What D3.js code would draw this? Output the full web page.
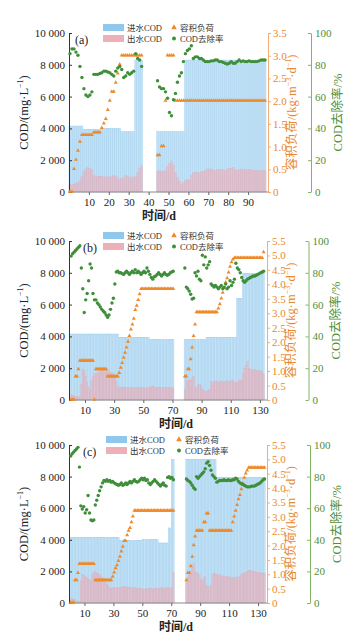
<!DOCTYPE html>
<html>
<head>
<meta charset="utf-8">
<script src="https://cdn.jsdelivr.net/npm/d3@7"></script>
<style>
  body { margin: 0; background: #fff; }
  text { font-family: "Liberation Serif", "Noto Sans CJK SC", serif; }
</style>
</head>
<body>
<svg id="chart" width="362" height="640"></svg>
<script>
// ---- data, one value per day starting at day 1, null = no operation ----
// (a)
const inA = [4150,4150,4150,4150,4150,4150,4150,
  3950,3950,3950,3950,3950,3950,3950,3950,3950,3950,
  4000,4000,4000,4000,4000,4000,4000,4000,4000,
  3800,3800,3800,3800,3800,3800,3800,
  8300,8300,8300,8300,
  null,null,null,null,null,null,null,
  3800,3800,3800,3800,3800,3800,3800,3800,3800,3800,3800,3800,3800,3800,
  8300,8300,8300,8300,8300,8300,8300,8300,8300,8300,8300,8300,8300,8300,8300,8300,8300,8300,8300,8300,
  8300,8300,8300,8300,8300,8300,8300,8300,8300,8300,8300,8300,8300,8300,8300,8300,8300,8300,8300,8300,8300];
const outA = [500,450,500,550,600,700,1000,1300,1450,1550,1500,1400,1050,1000,1000,1000,1000,950,950,950,
  950,1000,1050,1000,900,800,850,900,1050,1000,900,950,900,1000,1200,1500,1650,
  null,null,null,null,null,null,null,
  1300,1350,1300,1300,1350,1600,1800,1950,1700,1250,900,700,500,600,750,800,750,1050,1200,1250,
  1250,1200,1300,1300,1350,1450,1450,1450,1400,1350,1400,1400,1400,1400,1350,1450,1500,1500,1550,1400,
  1350,1400,1450,1400,1400,1400,1400,1400,1350,1350,1350,1350,1350,1350,1350];
const loadA = [0,0,0.5,0.7,0.9,1.1,1.25,1.25,1.25,1.25,1.25,1.25,1.3,1.3,1.3,1.3,
  1.4,1.5,1.6,1.8,2.0,2.2,2.2,2.4,2.6,2.8,
  3.0,3.0,3.0,3.0,3.0,3.0,3.0,3.0,3.0,3.0,3.0,
  null,null,null,null,null,null,null,
  0.8,0.8,1.0,1.0,2.0,3.0,3.0,3.0,3.0,
  2.0,2.0,2.0,2.0,2.0,2.0,2.0,2.0,2.0,2.0,2.0,2.0,2.0,2.0,2.0,2.0,2.0,2.0,2.0,2.0,2.0,2.0,2.0,
  2.0,2.0,2.0,2.0,2.0,2.0,2.0,2.0,2.0,2.0,2.0,2.0,2.0,2.0,2.0,2.0,2.0,2.0,2.0,2.0,2.0,2.0,2.0];
const remA = [87,90,90,88,86,79,72,65,61,60,61,63,74,74,74,74.5,75,76,76,75.5,75,74,73,76,78,79,77,72,73,75,
  74,75,76,87,84,83,79,
  null,null,null,null,null,null,null,
  70,66,65,65,63,59,50,48,58,62,69,73,75,82,87,89,90,92,84,85,85,84,84,83,82,82,82,82.5,82.5,83,
  83,82,82,81.5,81,80.5,81,82,81,81,82,83,82,82.5,82,82,82.5,82,82,82,82,82.5,83,83,83];

// (b)
const inB = [4150,4150,4150,4150,4150,4150,4150,4150,4150,4150,4150,4150,4150,4150,4150,4150,4150,
  4150,4150,4150,4150,4150,4150,4150,4150,4150,4150,4150,4150,4150,4150,4150,4150,
  3950,3950,3950,3950,3950,3950,3950,3950,3950,3950,3950,3950,3950,3950,3950,3950,3950,3950,3950,3950,3950,
  3800,3800,3800,3800,3800,3800,3800,3800,3800,3800,3800,3800,3800,3800,3800,3800,3800,
  null,null,null,null,null,null,null,
  3800,3800,3800,3800,3800,3800,3800,3800,3800,3800,3800,3800,3800,3800,3800,
  3950,3950,3950,3950,3950,3950,3950,3950,3950,3950,3950,3950,3950,3950,3950,3950,3950,3950,3950,3950,3950,
  6400,6400,6400,6400,
  7950,7950,7950,7950,7950,7950,7950,7950,7950,7950,7950,7950,7950,7950,7950];
const outB = [350,300,250,250,200,200,150,1000,1900,1850,1500,1100,800,600,
  1200,1500,1650,1600,1700,1750,1800,1850,1800,1750,1900,1850,1800,1750,1700,1650,1500,1200,850,
  800,780,800,820,800,780,760,800,800,780,750,800,800,780,760,780,800,800,780,750,
  780,800,850,850,820,800,780,800,820,800,780,800,820,800,780,760,780,760,
  null,null,null,null,null,null,null,
  650,1250,1250,1250,1250,1350,1480,750,800,950,950,950,700,600,500,550,600,650,1150,
  1100,1150,1200,1150,1100,1150,1200,1150,1100,1150,1200,1150,1100,1250,1250,1100,1100,1100,1250,1250,1250,
  1700,2000,2200,2400,2000,1950,1900,1900,1900,1850,1850,1850,1800,1800,1600];
const loadB = [0,0,0,0.8,0.8,1.05,1.35,1.35,1.35,1.35,1.35,1.35,1.35,1.35,1.35,1.35,0,
  1.05,1.05,1.05,1.05,1.05,1.05,1.05,1.05,0.8,0.8,0.8,0.8,0.8,0.8,0.8,0.8,
  0.92,1.1,1.27,1.45,1.62,1.8,2.0,2.2,2.43,2.6,2.8,3.1,3.25,3.45,3.65,
  3.83,3.83,3.83,3.83,3.83,3.83,3.83,3.83,3.83,3.83,3.83,3.83,3.83,3.83,3.83,3.83,3.83,3.83,3.83,3.83,3.83,3.83,3.83,
  null,null,null,null,null,null,null,
  0.8,0.8,1.05,1.05,1.4,1.8,2.2,2.6,
  3.02,3.02,3.02,3.02,3.02,3.02,3.02,3.02,3.02,3.02,3.02,3.02,3.02,3.02,3.02,
  3.15,3.3,3.5,3.7,3.85,4.05,4.2,4.4,4.6,4.75,4.85,
  4.9,4.9,4.9,4.9,4.9,4.9,4.9,4.9,4.9,4.9,4.9,4.9,4.9,4.9,4.9,4.9,4.9,4.9,4.9,4.9,5.1];
const remB = [90.5,92,93,94,95,96,97,83,70,55,63,67,75,85.5,
  83,67,63,63,61,60,58.5,57,56,55,53.5,52,53.5,57,61,64,73,80.5,81,
  80,80,79.5,79,80,81,80,79,80,81,80,82,80,81,80,79,80,81,80,83,81,79,77,76,77.5,78,79,80,79,78,79,80,79,78.5,79,80,80.5,81,
  null,null,null,null,null,null,null,
  83,71,70,68.5,66.5,63.5,64,80,78,81,76,75,91,85,90,83,85,87,73,72,71,72,71,70,71,72,70,71,73,70,
  71,75,72,74,76,86,83,82,80,77,75,74,75,76,76.5,77,77.5,78,78,78.5,79,79.5,80,80.5,81];

// (c)
const inC = [4150,4150,4150,4150,4150,4150,4150,4150,4150,4150,4150,4150,4150,4150,4150,4150,4150,
  4150,4150,4150,4150,4150,4150,4150,4150,4150,4150,4150,4150,4150,4150,4150,4150,4150,
  3950,3950,3950,3950,3950,3950,3950,3950,3950,3950,3950,3950,3950,3950,3950,3950,
  4000,4000,4000,4000,4000,4000,4000,4000,4000,4000,4000,
  3800,3800,3800,3800,3800,3800,3800,4750,4750,9100,9100,
  null,null,null,null,null,null,null,null,
  9100,9100,9100,9100,9100,9100,9100,9100,9100,9100,9100,9100,9100,9100,9100,9100,9100,9100,9100,9100,9100,
  7950,7950,7950,7950,7950,7950,7950,7950,7950,7950,7950,7950,7950,7950,7950,7950,7950,
  7950,7950,7950,7950,7950,7950,7950,7950,7950,7950,7950,7950,7950,7950,7950,7950,7950];
const outC = [300,250,250,200,150,100,100,
  1400,1800,1750,1700,1600,1550,1500,1400,1800,1950,2000,1900,1850,1800,1700,1600,1500,1300,1200,1100,950,900,
  950,1000,950,980,1000,950,1000,1050,1000,1050,1000,980,1000,950,1000,1000,950,920,900,950,900,880,
  850,900,880,900,950,900,880,900,920,950,900,950,1000,950,900,950,1000,950,920,1000,1950,
  null,null,null,null,null,null,null,null,
  1450,1600,1900,2000,2300,2500,2000,1950,1850,1800,1500,1450,1600,1650,1100,1000,1050,1100,1800,1900,
  1850,1800,1750,1800,1700,1700,1750,1700,1650,1700,1650,1600,1600,1550,1600,1600,1650,1700,1800,1850,
  1900,1950,2000,2050,2050,2050,2000,2000,1950,1950,1950,1900,1900,1850,1900];
const loadC = [0,0,0,0.78,0.78,1.03,1.35,1.35,1.35,1.35,1.35,1.35,1.35,1.35,1.35,1.35,1.35,
  0.78,0.78,0.78,0.78,0.78,0.78,0.78,0.78,0.78,0.78,0.78,0.78,
  0.9,1.05,1.2,1.3,1.45,1.6,1.78,1.95,2.15,2.15,2.35,2.5,2.6,2.8,3.0,
  3.2,3.2,3.2,3.2,3.2,3.2,3.2,3.2,3.2,3.2,3.2,3.2,3.2,3.2,3.2,3.2,3.2,3.2,3.2,3.2,3.2,3.2,3.2,3.2,3.2,3.2,3.2,3.2,
  null,null,null,null,null,null,null,null,
  0.78,1.03,1.03,1.27,1.6,2.0,2.3,2.5,2.5,2.5,2.5,2.5,2.8,2.8,3.1,3.1,
  2.5,2.5,2.5,2.5,2.5,2.5,2.5,2.5,2.5,2.5,2.5,2.5,2.5,2.5,2.5,2.5,
  2.8,3.0,3.2,3.4,3.6,3.75,3.95,4.15,4.35,4.5,4.6,
  4.7,4.7,4.7,4.7,4.7,4.7,4.7,4.7,4.7,4.7,4.7,4.7];
const remC = [93,94.5,95.5,96.5,97.5,98.5,86,61.5,59.5,61,57,59,68,57,52.5,52,52.5,62,65,68,
  71,73.5,76,77.5,77,78,77,77.5,76.5,77,76,75.5,75,74.5,75,76,74.5,75,76,75,
  76,77,76,77,78,77,76.5,77,78,79,78,79,77.5,78,76,75,76,77,78,77,
  76,75,74,75,76,74.5,74,79.5,80,79,79.5,78,
  null,null,null,null,null,null,null,null,
  78.5,77.5,77,76,74.5,73,72,80,79,80,81,82,83,85,88.5,89.5,87,84,81,80,
  79,76.5,77,77.5,77.5,77.5,78,77.5,77.5,78,77.5,77.5,78,78,79,78.5,77,76,75.5,75,
  74.5,74,73.5,73.5,73.5,74,74,74,74.5,75,75.5,76,77,78,78.5];

const tickCOD = [0, 2000, 4000, 6000, 8000, 10000];
const tickRem = [0, 20, 40, 60, 80, 100];
const tickLoadA = [0, 0.5, 1, 1.5, 2, 2.5, 3, 3.5];
const tickLoadBC = [0, 0.5, 1, 1.5, 2, 2.5, 3, 3.5, 4, 4.5, 5, 5.5];
const tickDayA = [10, 20, 30, 40, 50, 60, 70, 80, 90];
const tickDayBC = [10, 30, 50, 70, 90, 110, 130];
const legendNames = ["进水COD", "出水COD", "容积负荷", "COD去除率"];

// ---- layout ----
const C = { inf: "#c3e2f6", infEdge: "#a2cfee", infLeg: "#8fc8ec", eff: "#eeb0b8", load: "#ef8a2a",
  loadAxis: "#f3ad72", loadText: "#e8892f", rem: "#3f8f3a", remAxis: "#82b466", remText: "#4f8f3a" };

const panels = [
  { tag: "(a)", top: 33, bottom: 192, x0: 69, x1: 268, dMax: 100, loadMax: 3.5, loadTicks: tickLoadA,
    dayTicks: tickDayA, gAxis: 311, tagX: 75, titleX: 159, titleY: 216, leg1: 103, leg2: 174,
    inf: inA, eff: outA, load: loadA, rem: remA },
  { tag: "(b)", top: 241, bottom: 400, x0: 70.4, x1: 266.5, dMax: 134.5, loadMax: 5.5, loadTicks: tickLoadBC,
    dayTicks: tickDayBC, gAxis: 308.5, tagX: 83, titleX: 176, titleY: 424, leg1: 103, leg2: 174,
    inf: inB, eff: outB, load: loadB, rem: remB },
  { tag: "(c)", top: 445, bottom: 603, x0: 70, x1: 266.7, dMax: 136, loadMax: 5.5, loadTicks: tickLoadBC,
    dayTicks: tickDayBC, gAxis: 310, tagX: 83, titleX: 176, titleY: 627, leg1: 106, leg2: 179,
    inf: inC, eff: outC, load: loadC, rem: remC }
];

const fmtCOD = d3.formatLocale({ decimal: ".", thousands: " ", grouping: [3], currency: ["", ""] }).format(",");
const svg = d3.select("#chart");

panels.forEach(p => {
  const g = svg.append("g");
  const x = d3.scaleLinear().domain([0, p.dMax]).range([p.x0, p.x1]);
  const y = d3.scaleLinear().domain([0, 10000]).range([p.bottom, p.top]);
  const yL = d3.scaleLinear().domain([0, p.loadMax]).range([p.bottom, p.top]);
  const yR = d3.scaleLinear().domain([0, 100]).range([p.bottom, p.top]);
  const right = Math.round(p.x1);

  const days = p.inf.map((v, i) => i + 1);

  // influent bars
  g.append("g").selectAll("rect")
    .data(days.filter(d => p.inf[d - 1] != null))
    .join("rect")
    .attr("x", d => x(d - 1))
    .attr("width", d => x(d) - x(d - 1))
    .attr("y", d => y(p.inf[d - 1]))
    .attr("height", d => y(0) - y(p.inf[d - 1]))
    .attr("fill", C.inf)
    .attr("stroke", C.infEdge)
    .attr("stroke-width", 0.4);

  // effluent bars
  g.append("g").selectAll("rect")
    .data(days.filter(d => p.eff[d - 1] != null))
    .join("rect")
    .attr("x", d => x(d - 1))
    .attr("width", d => x(d) - x(d - 1))
    .attr("y", d => y(p.eff[d - 1]))
    .attr("height", d => y(0) - y(p.eff[d - 1]))
    .attr("fill", C.eff)
    .attr("fill-opacity", 0.6)
    .attr("stroke", "#d9b3c4")
    .attr("stroke-width", 0.3);

  // axes
  const bottomAxis = g.append("g")
    .attr("transform", `translate(0,${p.bottom})`)
    .call(d3.axisBottom(x).tickValues(p.dayTicks).tickSize(3).tickPadding(3));
  bottomAxis.select(".domain").attr("d", `M${p.x0 - 1},0H${right}`).attr("stroke", "#8a8a8a");
  bottomAxis.selectAll(".tick line").attr("stroke", "#666");
  bottomAxis.selectAll("text").attr("font-size", 11).attr("fill", "#222").style("font-family", "Liberation Serif");

  const leftAxis = g.append("g")
    .attr("transform", `translate(69,0)`)
    .call(d3.axisLeft(y).tickValues(tickCOD).tickFormat(fmtCOD).tickSizeInner(-3).tickSizeOuter(0).tickPadding(4));
  leftAxis.select(".domain").attr("stroke", "#333");
  leftAxis.selectAll(".tick line").attr("stroke", "#333");
  leftAxis.selectAll("text").attr("font-size", 11).attr("fill", "#222").style("font-family", "Liberation Serif");

  const loadAxis = g.append("g")
    .attr("transform", `translate(${right},0)`)
    .call(d3.axisRight(yL).tickValues(p.loadTicks).tickFormat(d => d === 0 ? "0" : d.toFixed(1))
      .tickSizeInner(3).tickSizeOuter(0).tickPadding(2));
  loadAxis.select(".domain").attr("stroke", C.loadAxis);
  loadAxis.selectAll(".tick line").attr("stroke", C.loadAxis);
  loadAxis.selectAll("text").attr("font-size", 11).attr("fill", C.loadText).style("font-family", "Liberation Serif");

  const remAxis = g.append("g")
    .attr("transform", `translate(${p.gAxis},0)`)
    .call(d3.axisRight(yR).tickValues(tickRem).tickSizeInner(-3).tickSizeOuter(0).tickPadding(4));
  remAxis.select(".domain").attr("stroke", C.remAxis);
  remAxis.selectAll(".tick line").attr("stroke", C.remAxis);
  remAxis.selectAll("text").attr("font-size", 11).attr("fill", C.remText).style("font-family", "Liberation Serif");

  // volumetric load
  const tri = d3.symbol().type(d3.symbolTriangle).size(7);
  g.append("g").selectAll("path")
    .data(days.filter(d => p.load[d - 1] != null))
    .join("path")
    .attr("d", tri)
    .attr("transform", d => `translate(${x(d - 0.5)},${yL(p.load[d - 1]) - 0.5})`)
    .attr("fill", C.load);

  // removal rate
  g.append("g").selectAll("circle")
    .data(days.filter(d => p.rem[d - 1] != null))
    .join("circle")
    .attr("cx", d => x(d - 0.5))
    .attr("cy", d => yR(p.rem[d - 1]))
    .attr("r", 1.7)
    .attr("fill", C.rem);

  // axis titles
  const mid = (p.top + p.bottom) / 2;
  const lt = g.append("text")
    .attr("transform", `translate(28,${mid}) rotate(-90)`)
    .attr("text-anchor", "middle")
    .attr("font-size", 12.5).attr("fill", "#222");
  lt.append("tspan").text("COD/(mg·L");
  lt.append("tspan").text("−1").attr("font-size", 8).attr("dy", -5);
  lt.append("tspan").text(")").attr("dy", 5);

  const ot = g.append("text")
    .attr("transform", `translate(${right + 28},${mid}) rotate(-90)`)
    .attr("text-anchor", "middle")
    .attr("font-size", 12.5).attr("fill", C.loadText);
  ot.append("tspan").text("容积负荷/(kg·m");
  ot.append("tspan").text("−3").attr("font-size", 8).attr("dy", -5);
  ot.append("tspan").text("·d").attr("dy", 5);
  ot.append("tspan").text("−1").attr("font-size", 8).attr("dy", -5);
  ot.append("tspan").text(")").attr("dy", 5);

  g.append("text")
    .attr("transform", `translate(${p.gAxis + 31},${mid}) rotate(-90)`)
    .attr("text-anchor", "middle")
    .attr("font-size", 12.5).attr("fill", C.remText)
    .text("COD去除率/%");

  g.append("text")
    .attr("x", p.titleX).attr("y", p.titleY + 4)
    .attr("text-anchor", "middle")
    .attr("font-size", 12).attr("font-weight", "bold").attr("fill", "#222")
    .text("时间/d");

  g.append("text")
    .attr("x", p.tagX).attr("y", p.top + 11)
    .attr("font-size", 12).attr("fill", "#222")
    .text(p.tag);

  // legend
  const r1 = p.top - 5.5, r2 = p.top + 5.5;
  const leg = g.append("g");
  leg.append("rect").attr("x", p.leg1).attr("y", r1 - 3.5).attr("width", 21).attr("height", 7).attr("fill", C.infLeg);
  leg.append("rect").attr("x", p.leg1).attr("y", r2 - 3.5).attr("width", 21).attr("height", 7).attr("fill", C.eff);
  leg.append("path").attr("d", d3.symbol().type(d3.symbolTriangle).size(14))
    .attr("transform", `translate(${p.leg2},${r1})`).attr("fill", C.load);
  leg.append("circle").attr("cx", p.leg2).attr("cy", r2).attr("r", 2).attr("fill", C.rem);
  [[p.leg1 + 24, r1, legendNames[0]], [p.leg1 + 24, r2, legendNames[1]],
   [p.leg2 + 6, r1, legendNames[2]], [p.leg2 + 6, r2, legendNames[3]]].forEach(([lx, ly, t]) => {
    leg.append("text").attr("x", lx).attr("y", ly + 3).attr("font-size", 8.5).attr("fill", "#333").text(t);
  });
});
</script>
</body>
</html>
